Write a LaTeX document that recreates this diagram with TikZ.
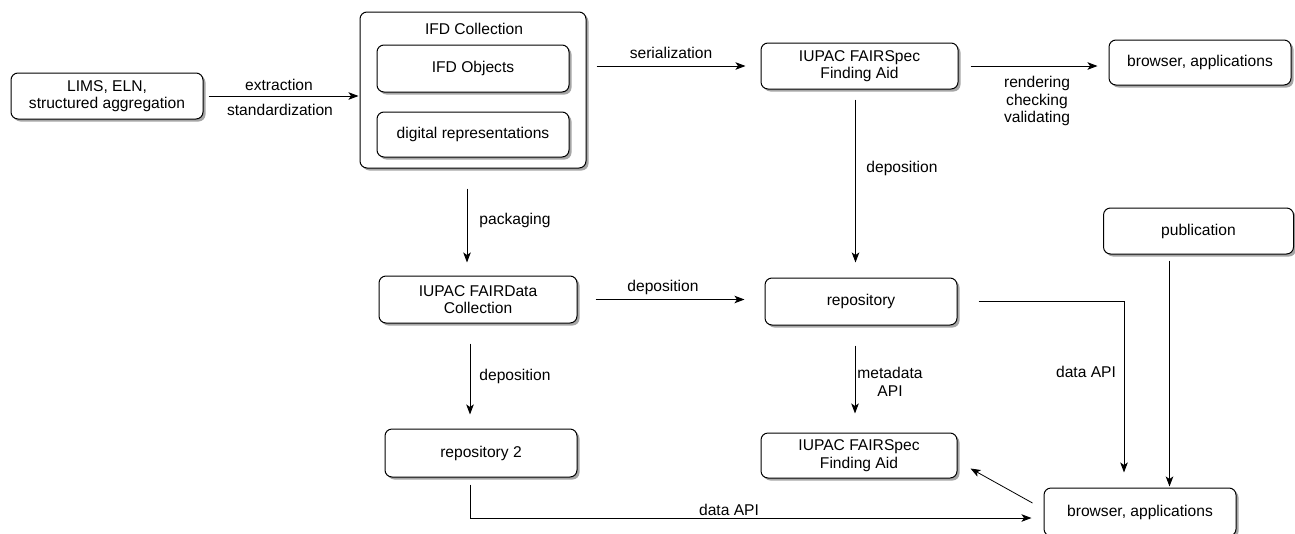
\documentclass[tikz,border=0pt]{standalone}
\usepackage{fontspec}
\setmainfont{Liberation Sans}
\usetikzlibrary{arrows.meta,shadows}
\begin{document}
\begin{tikzpicture}[x=1pt,y=-1pt,
  every node/.style={font=\fontsize{15.6}{17.5}\selectfont},
  box/.style={draw=black, line width=1pt, fill=white, rounded corners=7pt,
    align=center, inner sep=0pt,
    drop shadow={shadow xshift=2.5pt, shadow yshift=-2.5pt, fill=black!35, opacity=1}},
  lbl/.style={align=center, inner sep=0pt},
  arr/.style={line width=1pt, -{Stealth[length=10pt,width=7.5pt,inset=2.5pt]}},
  ln/.style={line width=1pt}]
\useasboundingbox (0,0) rectangle (1295,533);

% nodes
\node[box, minimum width=192pt, minimum height=46pt] (lims) at (107,96) {LIMS, ELN,\\structured aggregation};
\node[box, minimum width=226pt, minimum height=156pt] (ifd) at (473,90) {};
\node[lbl] (ifdt) at (474,29) {IFD Collection};
\node[box, minimum width=192pt, minimum height=47pt] (obj) at (473,68.5) {IFD Objects};
\node[box, minimum width=192pt, minimum height=45pt] (dig) at (473,134.5) {digital representations};
\node[box, minimum width=197pt, minimum height=46pt] (spec1) at (859.5,66) {IUPAC FAIRSpec\\Finding Aid};
\node[box, minimum width=182pt, minimum height=45pt] (brow1) at (1200,62.5) {browser, applications};
\node[box, minimum width=198pt, minimum height=47pt] (fdata) at (478,299.5) {IUPAC FAIRData\\Collection};
\node[box, minimum width=192pt, minimum height=47pt] (repo) at (861,301.5) {repository};
\node[box, minimum width=190pt, minimum height=46pt] (pub) at (1198.5,231) {publication};
\node[box, minimum width=192pt, minimum height=48pt] (repo2) at (481,453) {repository 2};
\node[box, minimum width=196pt, minimum height=45pt] (spec2) at (859,455.5) {IUPAC FAIRSpec\\Finding Aid};
\node[box, minimum width=192pt, minimum height=48pt] (brow2) at (1140,512) {browser, applications};

% connectors
\draw[arr, shorten <=5pt, shorten >=1pt] (lims.east) -- (lims.east -| ifd.west);
\node[lbl] (l1) at (279,85) {extraction};
\node[lbl] (l2) at (280,110) {standardization};

\draw[arr, shorten <=10pt, shorten >=15pt] (spec1.west -| ifd.east) -- (spec1.west);
\node[lbl] (l3) at (671,53) {serialization};

\draw[arr, shorten <=12pt, shorten >=11pt] (spec1.east) -- (spec1.east -| brow1.west);
\node[lbl] (l4) at (1037,101) {rendering\\checking\\validating};

\draw[arr, shorten <=10pt, shorten >=15pt] ([shift={(-4,0)}]spec1.south) -- ([shift={(-4,0)}]spec1.south |- repo.north);
\node[lbl] (l5) at (902,168) {deposition};

\draw[arr, shorten <=20pt, shorten >=13pt] ([shift={(-6,0)}]ifd.south) -- ([shift={(-6,0)}]ifd.south |- fdata.north);
\node[lbl] (l6) at (515,220) {packaging};

\draw[arr, shorten <=18pt, shorten >=20pt] (fdata.east) -- (fdata.east -| repo.west);
\node[lbl] (l7) at (663,287) {deposition};

\draw[arr, shorten <=20pt, shorten >=14pt] ([shift={(-8,0)}]fdata.south) -- ([shift={(-8,0)}]fdata.south |- repo2.north);
\node[lbl] (l8) at (515,376) {deposition};

\draw[arr, shorten <=20pt, shorten >=19pt] ([shift={(-6,0)}]repo.south) -- ([shift={(-6,0)}]repo.south |- spec2.north);
\node[lbl] (l9) at (890,382) {metadata\\API};

\draw[arr, shorten <=21pt, shorten >=15pt] (repo.east) -| ([shift={(-16,0)}]brow2.north);
\node[lbl] (l10) at (1086,372) {data API};

\draw[arr, shorten <=6pt, shorten >=1pt] ([shift={(-29,0)}]pub.south) -- ([shift={(-29,0)}]pub.south |- brow2.north);

\draw[arr, line width=0.8pt] ([shift={(-11,-9)}]brow2.west) -- ([shift={(13,-10)}]spec2.south east);

\draw[arr, shorten >=12pt] ([shift={(-11,7)}]repo2.south) |- ([shift={(0,6)}]brow2.west);
\node[lbl] (l11) at (729,510) {data API};
\end{tikzpicture}
\end{document}
